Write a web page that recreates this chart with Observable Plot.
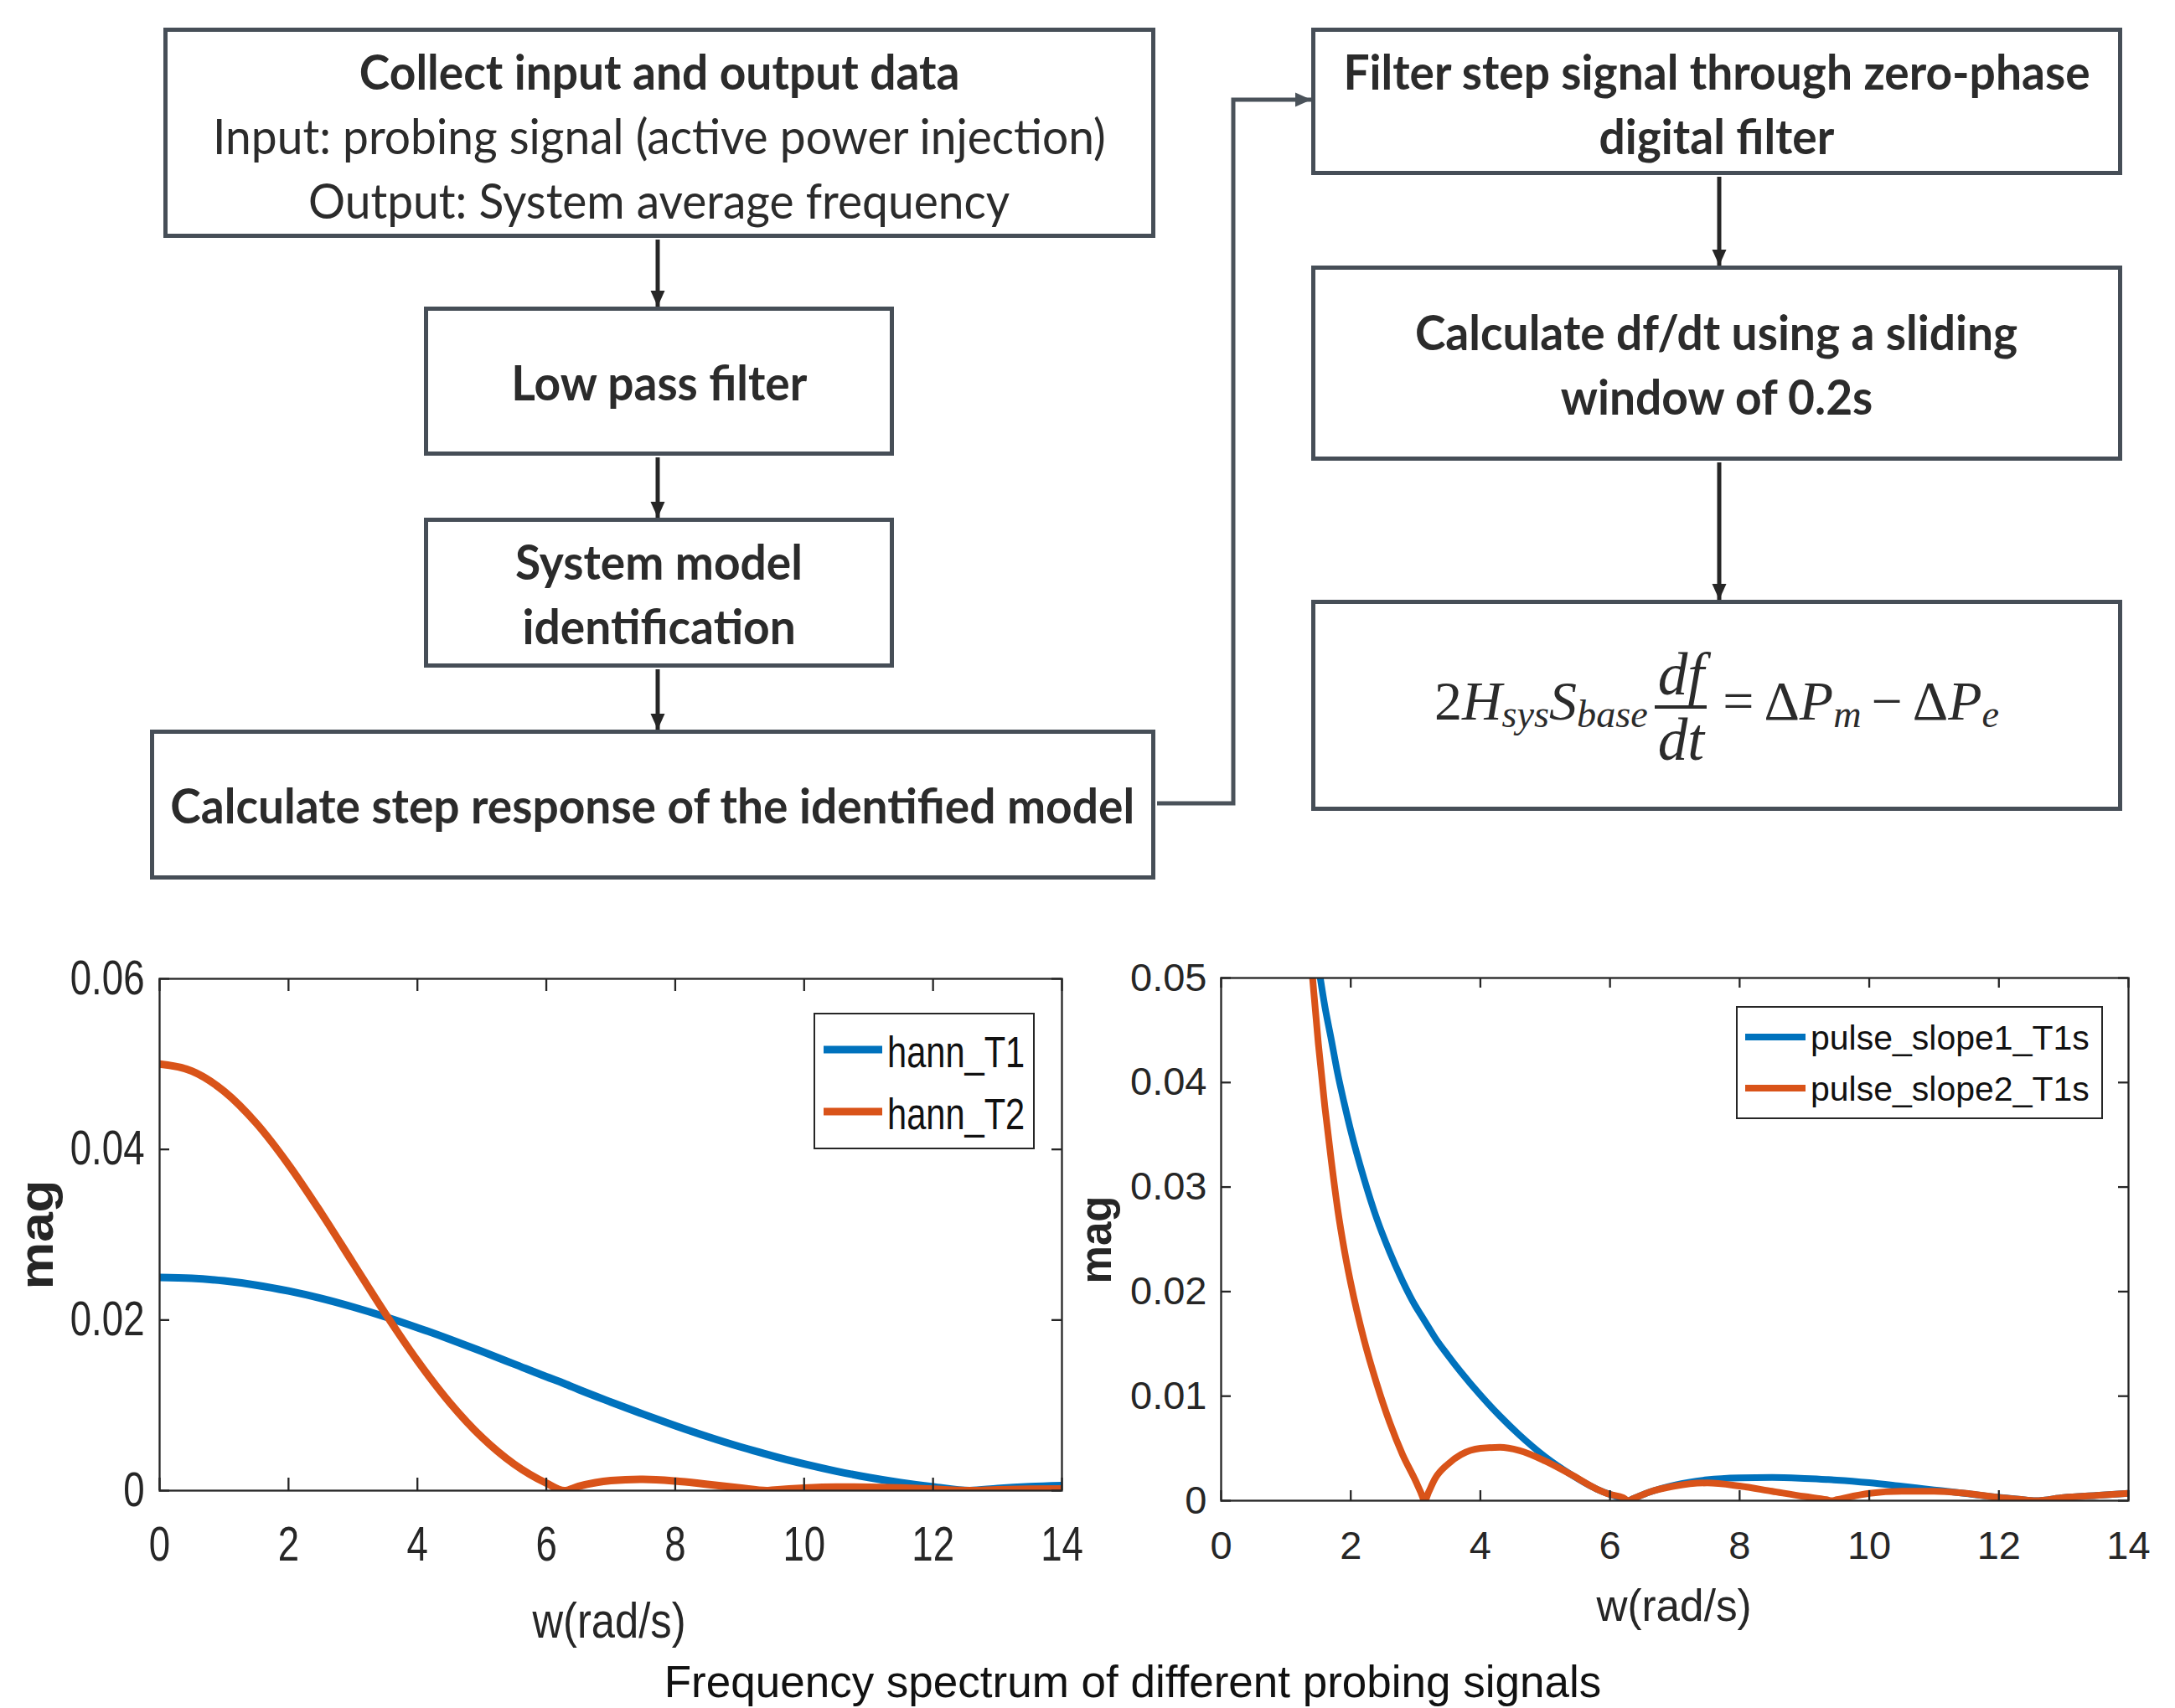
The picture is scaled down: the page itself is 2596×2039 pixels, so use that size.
<!DOCTYPE html>
<html>
<head>
<meta charset="utf-8">
<script src="https://cdn.jsdelivr.net/npm/d3@7"></script>
<script src="https://cdn.jsdelivr.net/npm/@observablehq/plot@0.6"></script>
<style>
html, body { margin: 0; padding: 0; background: #fff; }
#page { position: relative; width: 2596px; height: 2039px; overflow: hidden; background: #fff; color: #2b2b2b; font-family: Lato, "Open Sans", sans-serif; }
.box { position: absolute; box-sizing: border-box; border: 5px solid #464e57; display: flex; flex-direction: column; align-items: center; justify-content: center; background: #fff; }
.ln { white-space: nowrap; line-height: 77px; font-size: 58px; }
.ln span { display: inline-block; transform: scaleX(0.95); }
.ln.b { font-weight: 700; }
.ln.r { font-weight: 400; }
.host { position: absolute; }
.eq { font-family: "Liberation Serif", "DejaVu Serif", serif; font-size: 66px; white-space: nowrap; color: #2b2b2b; margin-top: 4px; }
.eq i { font-style: italic; }
.eq sub { font-size: 0.7em; font-style: italic; vertical-align: -0.2em; line-height: 0; }
.eq .op { display: inline-block; margin: 0 12px; }
.frac { display: inline-flex; flex-direction: column; align-items: center; vertical-align: middle; margin: 0 10px 0 12px; font-size: 1.08em; }
.frac .bar { width: 112%; height: 4px; background: #2b2b2b; margin: 3px 0; }
.frac > span { line-height: 68px; }
#overlay { position: absolute; left: 0; top: 0; pointer-events: none; }
</style>
</head>
<body>
<div id="page"></div>
<script>
// ---------------- data ----------------
const xTicks = [0, 2, 4, 6, 8, 10, 12, 14];
const hannTicks = [0, 0.02, 0.04, 0.06];
const pulseTicks = [0, 0.01, 0.02, 0.03, 0.04, 0.05];
const hannNames = ["hann_T1", "hann_T2"];
const pulseNames = ["pulse_slope1_T1s", "pulse_slope2_T1s"];
const seriesColors = ["#0072BD", "#D95319"];

const wHann = [0, 0.5, 1, 1.5, 2, 2.5, 3, 3.5, 4, 4.5, 5, 5.5, 6, 6.28, 6.5, 7, 7.5, 8, 8.5, 9, 9.42, 9.5, 10, 10.5, 11, 11.5, 12, 12.57, 13, 13.5, 14];
const hannT1 = [0.02500, 0.02490, 0.02459, 0.02409, 0.02340, 0.02255, 0.02153, 0.02038, 0.01911, 0.01775, 0.01632, 0.01484, 0.01335, 0.01255, 0.01186, 0.01039, 0.00897, 0.00762, 0.00634, 0.00516, 0.00426, 0.00409, 0.00313, 0.00228, 0.00155, 0.00094, 0.00044, 0, 0.00025, 0.00046, 0.00059];
const hannT2 = [0.05000, 0.04919, 0.04682, 0.04307, 0.03822, 0.03264, 0.02670, 0.02078, 0.01523, 0.01033, 0.00626, 0.00311, 0.00088, 0, 0.00050, 0.00118, 0.00133, 0.00113, 0.00074, 0.00032, 0, 0.00005, 0.00030, 0.00041, 0.00040, 0.00031, 0.00016, 0, 0.00010, 0.00017, 0.00019];

const wPulse = [1.3, 1.4, 1.5, 1.6, 1.7, 1.8, 1.9, 2.0, 2.2, 2.4, 2.6, 2.8, 3.0, 3.08, 3.14, 3.2, 3.3, 3.5, 3.7, 4.0, 4.3, 4.6, 5.0, 5.4, 5.8, 6.0, 6.2, 6.28, 6.36, 6.6, 7.0, 7.5, 8.0, 8.5, 9.0, 9.34, 9.42, 9.5, 10.0, 10.5, 11.0, 11.5, 12.0, 12.3, 12.57, 13.0, 13.5, 14.0];
const pulseSlope1 = [0.0615, 0.0555, 0.0512, 0.0473, 0.0441, 0.0408, 0.0380, 0.0354, 0.0309, 0.0270, 0.0238, 0.0210, 0.0186, 0.0178, 0.0172, 0.0166, 0.0156, 0.0139, 0.0123, 0.0101, 0.0081, 0.0063, 0.0042, 0.0025, 0.0011, 0.0006, 0.0002, 0, 0.0002, 0.0008, 0.0015, 0.0020, 0.00218, 0.00222, 0.00213, 0.00203, 0.00200, 0.00197, 0.00172, 0.00138, 0.00103, 0.00068, 0.00032, 0.00015, 0, 0.0003, 0.0005, 0.0007];
const pulseSlope2 = [0.0580, 0.0508, 0.0437, 0.0377, 0.0325, 0.0278, 0.0240, 0.0208, 0.0155, 0.0112, 0.0075, 0.0044, 0.0019, 0.0008, 0, 0.0008, 0.0021, 0.0035, 0.0044, 0.0050, 0.0051, 0.0048, 0.0038, 0.0025, 0.0011, 0.0006, 0.0003, 0, 0.0002, 0.0008, 0.0014, 0.0017, 0.0014, 0.0009, 0.0004, 0.0001, 0, 0.0001, 0.0007, 0.0009, 0.0009, 0.0007, 0.0003, 0.00015, 0, 0.0003, 0.0005, 0.0007];

const xLabel = "w(rad/s)";
const yLabel = "mag";
const caption = "Frequency spectrum of different probing signals";

const flowTexts = [
  [["Collect input and output data", "b"], ["Input: probing signal (active power injection)", "r"], ["Output: System average frequency", "r"]],
  [["Low pass filter", "b"]],
  [["System model", "b"], ["identification", "b"]],
  [["Calculate step response of the identified model", "b"]],
  [["Filter step signal through zero-phase", "b"], ["digital filter", "b"]],
  [["Calculate df/dt using a sliding", "b"], ["window of 0.2s", "b"]]
];

// ---------------- layout ----------------
const page = document.getElementById("page");
const boxLayout = [
  {x: 195, y: 33, w: 1184, h: 251, pt: 6},
  {x: 506, y: 366, w: 561, h: 178, pt: 0},
  {x: 506, y: 618, w: 561, h: 179, pt: 0},
  {x: 179, y: 871, w: 1200, h: 179, pt: 0},
  {x: 1565, y: 33, w: 968, h: 176, pt: 4},
  {x: 1565, y: 317, w: 968, h: 233, pt: 0},
  {x: 1565, y: 716, w: 968, h: 252, pt: 0}
];

boxLayout.forEach((b, i) => {
  const d = document.createElement("div");
  d.className = "box";
  Object.assign(d.style, {left: b.x + "px", top: b.y + "px", width: b.w + "px", height: b.h + "px", paddingTop: b.pt + "px"});
  if (i < flowTexts.length) {
    flowTexts[i].forEach(([txt, wt]) => {
      const l = document.createElement("div");
      l.className = "ln " + wt;
      const s = document.createElement("span");
      s.textContent = txt;
      l.appendChild(s);
      d.appendChild(l);
    });
  } else {
    d.innerHTML = '<div class="eq">2<i>H</i><sub>sys</sub><i>S</i><sub>base</sub><span class="frac"><span><i>df</i></span><span class="bar"></span><span><i>dt</i></span></span><span class="op">=</span>Δ<i>P</i><sub>m</sub><span class="op">−</span>Δ<i>P</i><sub>e</sub></div>';
  }
  page.appendChild(d);
});

// ---------------- charts ----------------
const ink = "#262626";
function drawChart(cfg) {
  const {left, top, w, series, names, yTicks, yMax, width, height, mL, mT, mR, mB, font, sx, xTickLen, yTickLen, sw, xPad, yPad} = cfg;
  const data = [];
  series.forEach((vals, k) => vals.forEach((v, i) => data.push({w: w[i], mag: v, name: names[k]})));
  const innerW = width - mL - mR, innerH = height - mT - mB;
  const fmt = d => d === 0 ? "0" : d3.format(".2f")(d);
  const svg = Plot.plot({
    width, height, marginLeft: mL, marginRight: mR, marginTop: mT, marginBottom: mB,
    style: {background: "transparent", fontFamily: "'Liberation Sans', Arial, sans-serif", fontSize: font + "px", color: ink, overflow: "visible"},
    x: {domain: [0, 14]},
    y: {domain: [0, yMax]},
    color: {domain: names, range: seriesColors},
    marks: [
      Plot.line(data, {x: "w", y: "mag", z: "name", stroke: "name", strokeWidth: sw, curve: "monotone-x", clip: true}),
      Plot.ruleX(xTicks, {x: d => d, insetTop: innerH - xTickLen, stroke: ink, strokeWidth: 2.3}),
      Plot.ruleX(xTicks, {x: d => d, insetBottom: innerH - xTickLen, stroke: ink, strokeWidth: 2.3}),
      Plot.ruleY(yTicks, {y: d => d, insetRight: innerW - yTickLen, stroke: ink, strokeWidth: 2.3}),
      Plot.ruleY(yTicks, {y: d => d, insetLeft: innerW - yTickLen, stroke: ink, strokeWidth: 2.3}),
      Plot.frame({stroke: ink, strokeWidth: 2.3}),
      Plot.axisX(xTicks, {tickSize: 0, tickPadding: xPad, label: null, fontSize: font}),
      Plot.axisY(yTicks, {tickSize: 0, tickPadding: yPad, label: null, tickFormat: fmt, fontSize: font})
    ]
  });
  svg.querySelectorAll('g[aria-label*="tick label"] text').forEach(t => {
    const tr = t.getAttribute("transform");
    if (tr) t.setAttribute("transform", tr + ` scale(${sx},1)`);
  });
  const host = document.createElement("div");
  host.className = "host";
  Object.assign(host.style, {left: left + "px", top: top + "px", width: width + "px", height: height + "px"});
  host.appendChild(svg);
  page.appendChild(host);
}

drawChart({left: 0, top: 1100, w: wHann, series: [hannT1, hannT2], names: hannNames, yTicks: hannTicks, yMax: 0.06,
  width: 1320, height: 900, mL: 190, mT: 68, mR: 53, mB: 221, font: 57, sx: 0.8, xTickLen: 15, yTickLen: 12, sw: 9, xPad: 43, yPad: 18});
drawChart({left: 1300, top: 1100, w: wPulse, series: [pulseSlope1, pulseSlope2], names: pulseNames, yTicks: pulseTicks, yMax: 0.05,
  width: 1296, height: 900, mL: 157, mT: 67, mR: 56, mB: 209, font: 47, sx: 1.0, xTickLen: 12, yTickLen: 12, sw: 8, xPad: 36, yPad: 17});

// ---------------- overlay: arrows, titles, legends, caption ----------------
const NS = "http://www.w3.org/2000/svg";
const ov = document.createElementNS(NS, "svg");
ov.setAttribute("id", "overlay");
ov.setAttribute("width", 2596);
ov.setAttribute("height", 2039);
page.appendChild(ov);
function el(tag, attrs, text) {
  const e = document.createElementNS(NS, tag);
  for (const k in attrs) e.setAttribute(k, attrs[k]);
  if (text != null) e.textContent = text;
  ov.appendChild(e);
  return e;
}
function arrow(points, color, width) {
  el("polyline", {points: points.map(p => p.join(",")).join(" "), fill: "none", stroke: color, "stroke-width": width});
  const [x1, y1] = points[points.length - 2], [x2, y2] = points[points.length - 1];
  const a = Math.atan2(y2 - y1, x2 - x1), L = 19, H = 8.5;
  const bx = x2 - L * Math.cos(a), by = y2 - L * Math.sin(a);
  const p1 = [bx + H * Math.sin(a), by - H * Math.cos(a)], p2 = [bx - H * Math.sin(a), by + H * Math.cos(a)];
  el("polygon", {points: [[x2, y2], p1, p2].map(p => p.join(",")).join(" "), fill: color});
}
arrow([[785, 286], [785, 366]], "#262626", 5);
arrow([[785, 546], [785, 618]], "#262626", 5);
arrow([[785, 799], [785, 871]], "#262626", 5);
arrow([[2052, 211], [2052, 317]], "#262626", 5);
arrow([[2052, 552], [2052, 716]], "#262626", 5);
arrow([[1381, 959], [1472, 959], [1472, 119], [1565, 119]], "#4a525a", 5);

const lblFont = "'Liberation Sans', Arial, sans-serif";
// axis titles
el("text", {transform: "translate(727,1955) scale(0.845,1)", "text-anchor": "middle", "font-family": lblFont, "font-size": 60, fill: ink}, xLabel);
el("text", {transform: "translate(1998,1935) scale(0.95,1)", "text-anchor": "middle", "font-family": lblFont, "font-size": 54, fill: ink}, xLabel);
el("text", {transform: "translate(63,1474) rotate(-90) scale(1.1,1)", "text-anchor": "middle", "font-family": lblFont, "font-size": 58, "font-weight": 700, fill: ink}, yLabel);
el("text", {transform: "translate(1326,1480) rotate(-90)", "text-anchor": "middle", "font-family": lblFont, "font-size": 51, "font-weight": 700, fill: ink}, yLabel);
// caption
el("text", {x: 1352, y: 2026, "text-anchor": "middle", "font-family": lblFont, "font-size": 53, fill: "#111"}, caption);

// legends
function legend(box, rows, names, font, sx, sw) {
  el("rect", {x: box[0], y: box[1], width: box[2] - box[0], height: box[3] - box[1], fill: "#fff", stroke: ink, "stroke-width": 2});
  names.forEach((n, i) => {
    el("line", {x1: rows.x1, x2: rows.x2, y1: rows.ys[i], y2: rows.ys[i], stroke: seriesColors[i], "stroke-width": sw});
    el("text", {transform: `translate(${rows.tx},${rows.ys[i] + rows.bo}) scale(${sx},1)`, "font-family": lblFont, "font-size": font, fill: "#111"}, n);
  });
}
legend([972, 1210, 1234, 1371], {x1: 983, x2: 1053, ys: [1253, 1327], tx: 1059, bo: 21}, hannNames, 52, 0.8, 9);
legend([2073, 1202, 2509, 1335], {x1: 2083, x2: 2155, ys: [1238, 1299], tx: 2161, bo: 15}, pulseNames, 41, 1.0, 8);
</script>
</body>
</html>
